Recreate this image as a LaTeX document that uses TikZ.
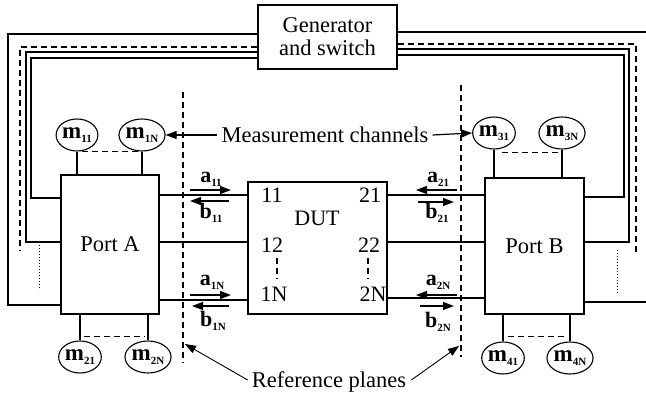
\documentclass[tikz,border=0pt]{standalone}
\usepackage{fontspec}
\setmainfont{Liberation Serif}
\usetikzlibrary{shapes.geometric,arrows.meta,calc}
\newcommand{\wv}[2]{\textbf{#1}\raisebox{-4pt}{\fontsize{11}{11}\selectfont\textbf{#2}}}
\begin{document}
\begin{tikzpicture}[x=1pt,y=-1pt,
  txt/.style={font=\fontsize{22.5}{25}\selectfont, inner sep=0pt},
  boxn/.style={draw, line width=1.3pt, inner sep=0pt},
  meas/.style={ellipse, draw, line width=1.1pt, minimum width=41pt, minimum height=32pt, inner sep=0pt, font=\fontsize{23}{25}\selectfont},
  wire/.style={line width=1.2pt},
  dsh/.style={line width=1.2pt, dash pattern=on 6pt off 4pt},
  dot/.style={line width=0.9pt, dash pattern=on 1pt off 2pt},
  warr/.style={line width=1.2pt, -{Triangle[length=11pt,width=8pt]}},
  lab/.style={font=\fontsize{22}{25}\selectfont, inner sep=0pt}
]
\useasboundingbox (0,0) rectangle (646,399);
\fill[white] (0,0) rectangle (646,399);

% main boxes
\node[boxn, minimum width=139pt, minimum height=64pt, align=center, txt] (gen) at (327.5,37) {Generator\\[-2pt]and switch};
\node[boxn, minimum width=98pt, minimum height=139pt, txt] (pA) at (110,244.5) {Port A};
\node[boxn, minimum width=99pt, minimum height=136pt, txt] (pB) at (534.5,246) {Port B};
\node[boxn, minimum width=139pt, minimum height=132pt] (dut) at (317.5,248) {};

% DUT labels
\node[lab] (n11) at (272,195) {11};
\node[lab] (n21) at (370,195) {21};
\node[lab] (ndut) at (317,218) {DUT};
\node[lab] (n12) at (272,245) {12};
\node[lab] (n22) at (369,245) {22};
\node[lab] (n1N) at (274,294) {1N};
\node[lab] (n2N) at (373,294) {2N};
\draw[line width=1.2pt, dash pattern=on 6pt off 4pt] (277,258) -- (277,279);
\draw[line width=1.2pt, dash pattern=on 6pt off 4pt] (368,258) -- (368,279);

% measurement receivers
\node[meas] (m11) at (77,135) {\wv{m}{11}};
\node[meas] (m1N) at (142,135) {\wv{m}{1N}};
\node[meas] (m31) at (494,133) {\wv{m}{31}};
\node[meas] (m3N) at (562,133) {\wv{m}{3N}};
\node[meas] (m21) at (80,357) {\wv{m}{21}};
\node[meas] (m2N) at (148,357) {\wv{m}{2N}};
\node[meas] (m41) at (503,358) {\wv{m}{41}};
\node[meas] (m4N) at (570,358) {\wv{m}{4N}};

\draw[wire] (m11.south) -- (m11.south |- pA.north);
\draw[wire] (m1N.south) -- (m1N.south |- pA.north);
\draw[dsh] ($(m11.south)+(5,0)$) -- ($(m1N.south)+(-4,0)$);
\draw[wire] (m31.south) -- (m31.south |- pB.north);
\draw[wire] (m3N.south) -- (m3N.south |- pB.north);
\draw[dsh] ($(m31.south)+(8,3)$) -- ($(m3N.south)+(-2,3)$);
\draw[wire] (m21.north) -- (m21.north |- pA.south);
\draw[wire] (m2N.north) -- (m2N.north |- pA.south);
\draw[dsh] ($(m21.north)+(4,-4)$) -- ($(m2N.north)+(-3,-4)$);
\draw[wire] (m41.north) -- (m41.north |- pB.south);
\draw[wire] (m4N.north) -- (m4N.north |- pB.south);
\draw[dsh] ($(m41.north)+(5,-5)$) -- ($(m4N.north)+(-3,-5)$);

% Port A <-> DUT <-> Port B lines
\coordinate (y11) at (0,195);
\coordinate (y12) at (0,242);
\coordinate (y1N) at (0,300);
\coordinate (y2N) at (0,298);
\draw[wire] (pA.east |- y11) -- (dut.west |- y11);
\draw[wire] (pA.east |- y12) -- (dut.west |- y12);
\draw[wire] (pA.east |- y1N) -- (dut.west |- y1N);
\draw[wire] (dut.east |- y11) -- (pB.west |- y11);
\draw[wire] (dut.east |- y12) -- (pB.west |- y12);
\draw[wire] (dut.east |- y2N) -- (pB.west |- y2N);

% loops to generator (left)
\draw[wire] (gen.west |- 0,34) -- (8,34) -- (8,305) -- (pA.west |- 0,305);
\draw[dsh] (gen.west |- 0,47) -- (20,47) -- (20,250);
\draw[wire] (gen.west |- 0,52) -- (26,52) -- (26,242) -- (pA.west |- 0,242);
\draw[wire] (gen.west |- 0,58) -- (31,58) -- (31,198) -- (pA.west |- 0,198);
\draw[dot] (39,242) -- (39,290);
% loops to generator (right)
\draw[wire] (gen.east |- 0,32) -- (646,32);
\draw[wire] (pB.east |- 0,302) -- (646,302);
\draw[dsh] (gen.east |- 0,44) -- (636,44) -- (636,253);
\draw[wire] (gen.east |- 0,49) -- (629,49) -- (629,242) -- (pB.east |- 0,242);
\draw[wire] (gen.east |- 0,55) -- (624,55) -- (624,197) -- (pB.east |- 0,197);
\draw[dot] (617,250) -- (617,293);

% reference planes
\coordinate (rLt) at (183,92);
\coordinate (rLb) at (183,363);
\coordinate (rRt) at (461,85);
\coordinate (rRb) at (461,357);
\draw[dsh] (rLt) -- (rLb);
\draw[dsh] (rRt) -- (rRb);

% wave arrows
\coordinate (a11s) at (190,190); \coordinate (a11e) at (231,190);
\coordinate (b11s) at (229,201); \coordinate (b11e) at (190,201);
\coordinate (a1Ns) at (190,295); \coordinate (a1Ne) at (231,295);
\coordinate (b1Ns) at (229,306); \coordinate (b1Ne) at (192,306);
\coordinate (a21s) at (457,190); \coordinate (a21e) at (416,190);
\coordinate (b21s) at (418,202); \coordinate (b21e) at (454,202);
\coordinate (a2Ns) at (457,295); \coordinate (a2Ne) at (416,295);
\coordinate (b2Ns) at (420,306); \coordinate (b2Ne) at (454,306);
\draw[warr] (a11s) -- (a11e);
\draw[warr] (b11s) -- (b11e);
\draw[warr] (a1Ns) -- (a1Ne);
\draw[warr] (b1Ns) -- (b1Ne);
\draw[warr] (a21s) -- (a21e);
\draw[warr] (b21s) -- (b21e);
\draw[warr] (a2Ns) -- (a2Ne);
\draw[warr] (b2Ns) -- (b2Ne);
\node[lab] (la11) at (211,179) {\wv{a}{11}};
\node[lab] (lb11) at (211,213) {\wv{b}{11}};
\node[lab] (la1N) at (212,282) {\wv{a}{1N}};
\node[lab] (lb1N) at (213,321) {\wv{b}{1N}};
\node[lab] (la21) at (438,179) {\wv{a}{21}};
\node[lab] (lb21) at (437,213) {\wv{b}{21}};
\node[lab] (la2N) at (438,282) {\wv{a}{2N}};
\node[lab] (lb2N) at (438,322) {\wv{b}{2N}};

% annotation texts
\node[txt] (mc) at (325,135) {Measurement channels};
\draw[warr] (mc.west) ++(-4,0) -- (m1N.east);
\draw[warr] (mc.east) ++(4,0) -- (m31.west);
\node[txt] (rp) at (329,382) {Reference planes};
\coordinate (pL) at (185,344);
\coordinate (pR) at (459,346);
\draw[line width=0.9pt, -{Triangle[length=11pt,width=8pt]}] ($(rp.west)+(-4,-2)$) -- (pL);
\draw[line width=0.9pt, -{Triangle[length=11pt,width=8pt]}] ($(rp.east)+(5,-2)$) -- (pR);
\end{tikzpicture}
\end{document}
